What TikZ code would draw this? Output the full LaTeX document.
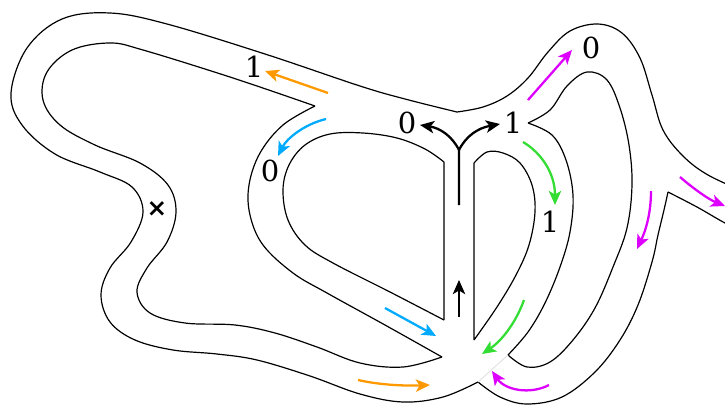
\documentclass[tikz,border=0pt]{standalone}
\usepackage{fontspec}
\setmainfont{DejaVu Serif}
\newfontfamily\marksans{DejaVu Sans}
\usetikzlibrary{arrows.meta}

\begin{document}
\begin{tikzpicture}[x=0.02cm, y=-0.02cm,
    track/.style={line width=0.68pt, line join=round},
    flow/.style={line width=1.3pt, -{Stealth[length=8pt, width=7pt, inset=2pt]}},
    lbl/.style={font=\fontsize{16.5}{20}\selectfont, inner sep=0pt}]

    % 设置每条路径的颜色
    \definecolor{OrangeFlow}{RGB}{255, 153, 0}
    \definecolor{BlueFlow}{RGB}{0, 170, 255}
    \definecolor{GreenFlow}{RGB}{51, 221, 51}
    \definecolor{MagentaFlow}{RGB}{221, 0, 255}

    \clip (0,0) rectangle (725,407);

    % 左侧大环
    \draw[track] plot[smooth, tension=0.6] coordinates {(457,112) (405,99) (360,86) (265,54) (167,24) (110,13) (62,19) (27,48) (11,93) (22,125) (55,154) (100,172) (132,187) (143,212) (131,242) (110,268) (101,295) (110,322) (135,340) (173,350) (217,354) (257,360) (310,376) (360,394) (403,402) (443,397) (478,382)};
    \draw[track] plot[smooth, tension=0.6] coordinates {(315,106) (233,78) (143,50) (110,43) (72,50) (47,72) (43,100) (60,125) (95,145) (140,163) (168,185) (176,212) (167,242) (147,268) (137,292) (150,313) (185,323) (235,325) (275,333) (317,347) (360,363) (403,367) (442,357)};

    % 左侧 D 形
    \draw[track] plot[smooth, tension=0.6] coordinates {(315,106) (283,125) (260,153) (249,185) (250,215) (263,245) (293,273) (327,293) (385,325) (442,357)};
    \draw[track] (444,320) -- (444,162) plot[smooth, tension=0.6] coordinates {(444,162) (425,149) (397,138) (363,133) (330,134) (305,145) (289,165) (283,190) (288,220) (305,245) (333,263) (390,292) (444,320)};

    % 右侧 D 形
    \draw[track] (474,340) -- (474,163) plot[smooth, tension=0.6] coordinates {(474,163) (487,152) (503,153) (520,163) (532,185) (535,212) (529,245) (516,275) (497,307) (474,340)};
    \draw[track] plot[smooth, tension=0.6] coordinates {(528,123) (552,135) (566,160) (573,195) (570,232) (560,267) (545,303) (528,332) (508,355)};

    % 右上方的弯道
    \draw[track] plot[smooth, tension=0.6] coordinates {(528,123) (550,110) (567,86) (587,72) (607,80) (620,108) (629,145) (632,185) (627,228) (613,267) (595,308) (573,340) (550,362) (527,367) (508,355)};
    \draw[track] plot[smooth, tension=0.6] coordinates {(457,112) (483,107) (507,96) (528,78) (548,52) (570,31) (598,24) (622,33) (640,58) (652,95) (663,130) (683,156) (708,175) (745,192)};
    \draw[track] plot[smooth, tension=0.6] coordinates {(745,232) (725,223) (697,207) (668,192)};
    \draw[track] plot[smooth, tension=0.6] coordinates {(668,192) (664,210) (658,235) (652,262) (638,305) (620,340) (595,372) (562,397) (527,404) (500,397) (478,382)};
    \draw[black!12, line width=0.5pt] (508,355) -- (478,382);

    % 箭头
    \draw[flow, black] (459,205) -- (459,150) .. controls (452,136) and (440,128) .. (420,125);
    \draw[flow, black] (459,150) .. controls (466,136) and (478,128) .. (500,124);
    \draw[flow, black] (459,317) -- (459,280);
    \draw[flow, OrangeFlow] (328,93) -- (265,71);
    \draw[flow, OrangeFlow] (358,380) .. controls (380,385) and (405,386) .. (430,385);
    \draw[flow, BlueFlow] (326,119) .. controls (305,124) and (287,138) .. (278,156);
    \draw[flow, BlueFlow] (385,308) -- (436,336);
    \draw[flow, GreenFlow] (523,142) .. controls (540,152) and (555,172) .. (555,205);
    \draw[flow, GreenFlow] (524,300) .. controls (515,325) and (500,342) .. (482,354);
    \draw[flow, MagentaFlow] (528,100) -- (572,50);
    \draw[flow, MagentaFlow] (680,177) .. controls (695,190) and (710,200) .. (725,206);
    \draw[flow, MagentaFlow] (651,191) .. controls (651,215) and (645,232) .. (637,249);
    \draw[flow, MagentaFlow] (549,385) .. controls (530,395) and (505,390) .. (492,371);

    % 标签
    \node[lbl] (splitZero) at (407,123) {0};
    \node[lbl] (splitOne) at (513,123) {1};
    \node[lbl] (loopOne) at (254,67) {1};
    \node[lbl] (ringZero) at (270,171) {0};
    \node[lbl] (bumpZero) at (591,48) {0};
    \node[lbl] (ringOne) at (550,222) {1};
    \node[font=\marksans\bfseries\fontsize{14}{16}\selectfont, inner sep=0pt] (cross) at (157,209) {×};

\end{tikzpicture}
\end{document}
